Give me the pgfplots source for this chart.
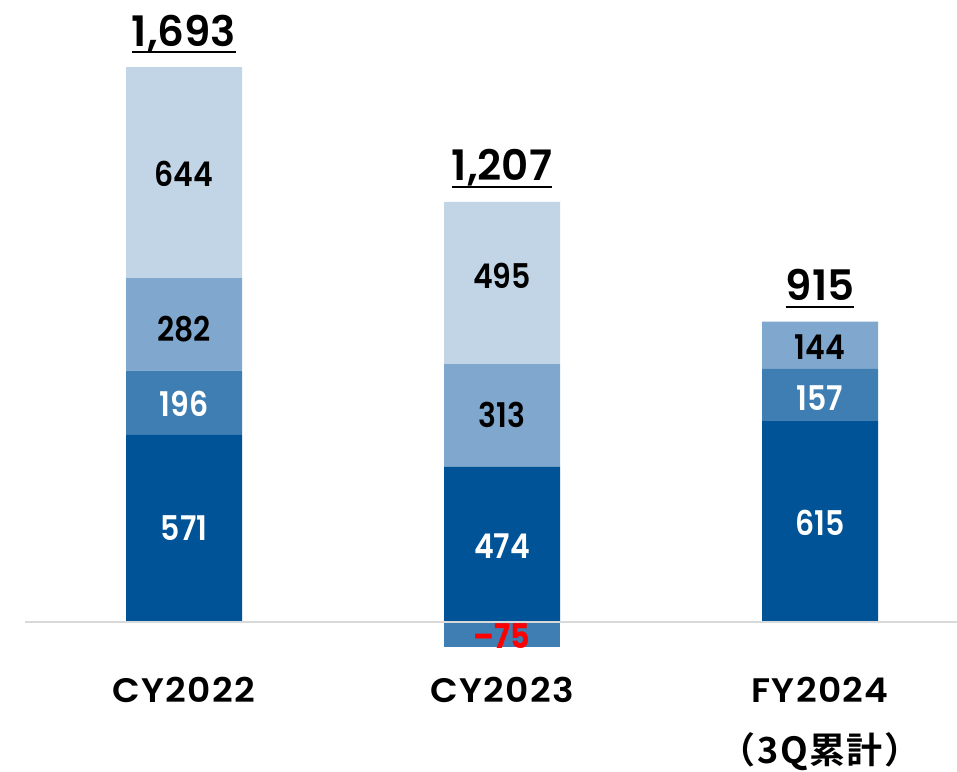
\documentclass[border=0pt]{standalone}
\usepackage{pgfplots}
\pgfplotsset{compat=1.18}
\usepackage{pgfplotstable}
\usepackage{fontspec}
\setmainfont{Poppins}[UprightFont=* SemiBold, BoldFont=* Bold]
\newfontfamily\labfont{Poppins}[UprightFont=* SemiBold, BoldFont=* Bold, FakeStretch=0.88]
\newfontfamily\catfont{Poppins}[UprightFont=* SemiBold, LetterSpace=4, FakeStretch=1.06]
\newfontfamily\cjk{Noto Sans CJK JP Bold}[LetterSpace=4]
\definecolor{c1}{HTML}{005397}
\definecolor{c2}{HTML}{3F7EB3}
\definecolor{c3}{HTML}{80A8CE}
\definecolor{c4}{HTML}{C2D5E6}
\definecolor{zl}{HTML}{D9D9D9}
\pgfplotstableread{
x a b c d
184 571 196 282 644
502 474 0 313 495
820 615 157 144 0
}\stackdata
\pgfplotstableread{
x n
502 -75
}\negdata
\begin{document}
\begin{tikzpicture}[x=1pt,y=1pt]
\path[use as bounding box] (0,0) rectangle (957,771);
\pgfplotsset{base/.style={at={(0,0)}, anchor=south west, scale only axis,
  width=957pt, height=771pt, xmin=0, xmax=957, ymin=-454.5, ymax=1897.5,
  hide axis, clip=false, bar width=116pt}}
\begin{axis}[base, ybar stacked]
\addplot[fill=c1, draw=none] table[x=x,y=a]{\stackdata};
\addplot[fill=c2, draw=none] table[x=x,y=b]{\stackdata};
\addplot[fill=c3, draw=none] table[x=x,y=c]{\stackdata};
\addplot[fill=c4, draw=none] table[x=x,y=d]{\stackdata};
\end{axis}
\begin{axis}[base, ybar]
\addplot[fill=c2, draw=none] table[x=x,y=n]{\negdata};
\draw[zl, line width=2pt] (axis cs:25,0) -- (axis cs:957,0);
\tikzset{lab/.style={font=\labfont\fontsize{34}{34}\selectfont, inner sep=0pt}}
\node[lab, white] at (axis cs:184,285.5) {571};
\node[lab, white] at (axis cs:184,667) {196};
\node[lab] at (axis cs:184,894) {282};
\node[lab] at (axis cs:184,1368) {644};
\node[lab, white] at (axis cs:502,232) {474};
\node[lab] at (axis cs:502,631) {313};
\node[lab] at (axis cs:502,1055) {495};
\node[lab, red, font=\labfont\bfseries\fontsize{34}{34}\selectfont] at (axis cs:502,-42) {–75};
\node[lab, white] at (axis cs:820,304) {615};
\node[lab, white] at (axis cs:820,682) {157};
\node[lab] at (axis cs:820,840) {144};
\tikzset{tot/.style={font=\fontsize{42}{42}\selectfont, inner sep=0pt, anchor=base, yshift=21pt}}
\node[tot] (ta) at (axis cs:184,1693) {1,693};
\node[tot] (tb) at (axis cs:502,1282) {1,207};
\node[tot] (tc) at (axis cs:820,916) {915};
\draw[line width=2.2pt] ([yshift=-6pt]ta.base west) -- ([yshift=-6pt]ta.base east);
\draw[line width=2.2pt] ([yshift=-6pt]tb.base west) -- ([yshift=-6pt]tb.base east);
\draw[line width=2.2pt] ([yshift=-6pt]tc.base west) -- ([yshift=-6pt]tc.base east);
\tikzset{cat/.style={font=\catfont\fontsize{34}{34}\selectfont, inner sep=0pt}}
\node[cat] at (axis cs:184,-207) {CY2022};
\node[cat] at (axis cs:502,-207) {CY2023};
\node[cat] at (axis cs:820,-207) {FY2024};
\node[font=\cjk\fontsize{36}{36}\selectfont, inner sep=0pt] at (axis cs:820,-396) {（3Q累計）};
\end{axis}
\end{tikzpicture}
\end{document}
